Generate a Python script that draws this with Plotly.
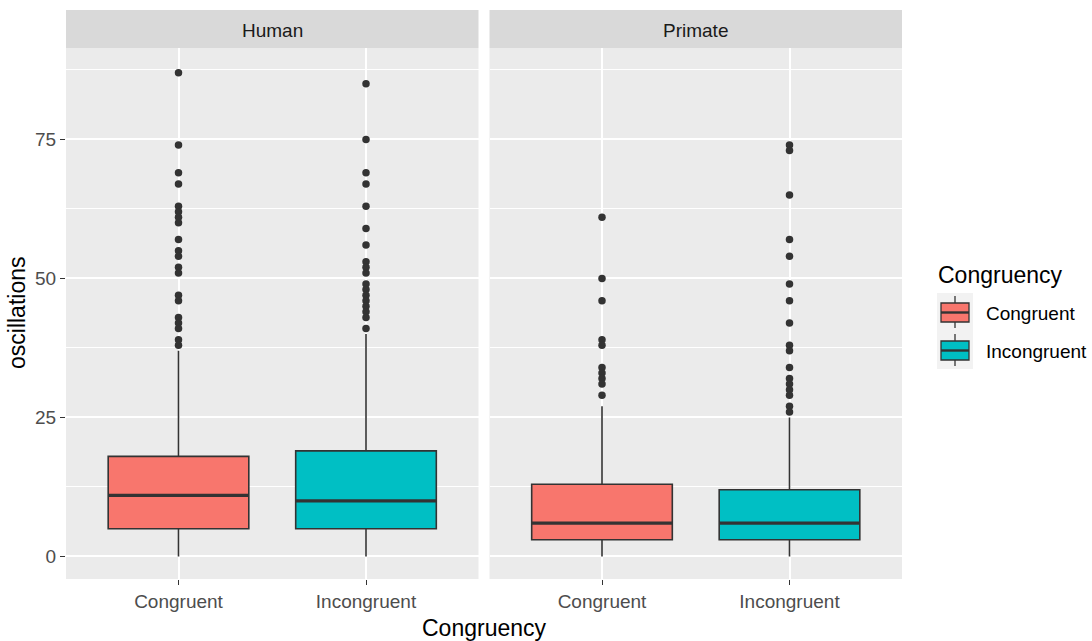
import plotly.graph_objects as go
from plotly.subplots import make_subplots

# ---------------- data ----------------
categories = ["Congruent", "Incongruent"]
panels = ["Human", "Primate"]

human_q1 = [5, 5]
human_median = [11, 10]
human_q3 = [18, 19]
human_lower = [0, 0]
human_upper = [37, 40]
human_out_congruent = [87, 74, 69, 67, 63, 62, 61, 60, 57, 55, 54, 52, 51, 47, 46, 43, 42, 41, 39, 38]
human_out_incongruent = [85, 75, 69, 67, 63, 59, 56, 53, 52, 51, 49, 48, 47, 46, 45, 44, 43, 41]

primate_q1 = [3, 3]
primate_median = [6, 6]
primate_q3 = [13, 12]
primate_lower = [0, 0]
primate_upper = [27, 25]
primate_out_congruent = [61, 50, 46, 39, 38, 34, 33, 32, 31, 29]
primate_out_incongruent = [74, 73, 65, 57, 54, 49, 46, 42, 38, 37, 34, 32, 31, 30, 29, 27, 26]

y_ticks = [0, 25, 50, 75]
colors = ["#F8766D", "#00BFC4"]

# ---------------- figure ----------------
W, H = 1092, 641
ML, MR, MT, MB = 66, 190, 48, 62
PW = W - ML - MR
PH = H - MT - MB


def px(x):
    return (x - ML) / PW


def py(y):
    return (H - MB - y) / PH


fig = make_subplots(rows=1, cols=2, shared_yaxes=True, horizontal_spacing=11 / PW)

DARK = "#333333"
BOXW = 0.75

data = [
    (human_q1, human_median, human_q3, human_lower, human_upper,
     [human_out_congruent, human_out_incongruent]),
    (primate_q1, primate_median, primate_q3, primate_lower, primate_upper,
     [primate_out_congruent, primate_out_incongruent]),
]

for ci, (q1, med, q3, lo, up, outs) in enumerate(data):
    col = ci + 1
    for k, cat in enumerate(categories):
        xpos = k + 1
        fig.add_trace(go.Box(
            x=[xpos], q1=[q1[k]], median=[med[k]], q3=[q3[k]],
            lowerfence=[lo[k]], upperfence=[up[k]],
            width=BOXW, fillcolor=colors[k],
            line=dict(color=DARK, width=1.6), whiskerwidth=0,
            boxpoints=False, showlegend=False, hoverinfo="skip",
            name=cat,
        ), row=1, col=col)
        # thicker median line (ggplot style)
        fig.add_trace(go.Scatter(
            x=[xpos - BOXW / 2, xpos + BOXW / 2], y=[med[k], med[k]],
            mode="lines", line=dict(color=DARK, width=3.2),
            showlegend=False, hoverinfo="skip",
        ), row=1, col=col)
        fig.add_trace(go.Scatter(
            x=[xpos] * len(outs[k]), y=outs[k], mode="markers",
            marker=dict(color=DARK, size=7.5, line=dict(width=0)),
            showlegend=False, hoverinfo="skip",
        ), row=1, col=col)

FONT = "Liberation Sans, Arial, sans-serif"

for ax in ["xaxis", "xaxis2"]:
    fig.layout[ax].update(
        range=[0.4, 2.6], tickvals=[1, 2], ticktext=categories,
        showgrid=True, gridcolor="white", gridwidth=2,
        zeroline=False, showline=False,
        ticks="outside", ticklen=5, tickwidth=1.3, tickcolor=DARK,
        tickfont=dict(family=FONT, size=19, color="#4D4D4D"),
        fixedrange=True,
    )

for ax in ["yaxis", "yaxis2"]:
    fig.layout[ax].update(
        range=[-4.05, 91.45], tickvals=y_ticks,
        showgrid=True, gridcolor="white", gridwidth=2,
        minor=dict(tickvals=[12.5, 37.5, 62.5, 87.5], showgrid=True,
                   gridcolor="white", gridwidth=1, ticks=""),
        zeroline=False, showline=False,
        tickfont=dict(family=FONT, size=19, color="#4D4D4D"),
        fixedrange=True,
    )
fig.layout.yaxis.update(ticks="outside", ticklen=5, tickwidth=1.3, tickcolor=DARK)
fig.layout.yaxis2.update(ticks="", showticklabels=False)

shapes = []
annotations = []

# facet strips
for i, name in enumerate(panels):
    xr = "x domain" if i == 0 else "x2 domain"
    shapes.append(dict(type="rect", xref=xr, yref="paper", x0=0, x1=1,
                       y0=py(48), y1=py(10), fillcolor="#D9D9D9", line=dict(width=0),
                       layer="below"))
    annotations.append(dict(text=name, xref=xr, yref="paper", x=0.5, y=py(30),
                            showarrow=False, xanchor="center", yanchor="middle",
                            font=dict(family=FONT, size=19, color="#1A1A1A")))

# axis titles
annotations.append(dict(text="Congruency", xref="paper", yref="paper", x=px(484), y=py(628),
                        showarrow=False, xanchor="center", yanchor="middle",
                        font=dict(family=FONT, size=23, color="black")))
annotations.append(dict(text="oscillations", xref="paper", yref="paper", x=px(17), y=py(313),
                        showarrow=False, xanchor="center", yanchor="middle", textangle=-90,
                        font=dict(family=FONT, size=23, color="black")))

# legend (ggplot-style box keys)
annotations.append(dict(text="Congruency", xref="paper", yref="paper", x=px(936), y=py(275),
                        showarrow=False, xanchor="left", yanchor="middle",
                        font=dict(family=FONT, size=23, color="black")))
key_top = [293, 331]
for k, cat in enumerate(categories):
    t = key_top[k]
    shapes.append(dict(type="rect", xref="paper", yref="paper", x0=px(937), x1=px(973),
                       y0=py(t + 38), y1=py(t), fillcolor="#F2F2F2", line=dict(width=0)))
    shapes.append(dict(type="line", xref="paper", yref="paper", x0=px(955), x1=px(955),
                       y0=py(t + 35), y1=py(t + 3), line=dict(color=DARK, width=1.3)))
    shapes.append(dict(type="rect", xref="paper", yref="paper", x0=px(941), x1=px(969),
                       y0=py(t + 29), y1=py(t + 10), fillcolor=colors[k],
                       line=dict(color=DARK, width=1.3)))
    shapes.append(dict(type="line", xref="paper", yref="paper", x0=px(941), x1=px(969),
                       y0=py(t + 19.5), y1=py(t + 19.5), line=dict(color=DARK, width=2.4)))
    annotations.append(dict(text=cat, xref="paper", yref="paper", x=px(984), y=py(t + 20),
                            showarrow=False, xanchor="left", yanchor="middle",
                            font=dict(family=FONT, size=19, color="black")))

fig.update_layout(
    width=W, height=H,
    margin=dict(l=ML, r=MR, t=MT, b=MB, pad=0),
    paper_bgcolor="white", plot_bgcolor="#EBEBEB",
    shapes=shapes, annotations=annotations,
    showlegend=False, boxmode="overlay",
    font=dict(family=FONT),
)

fig.write_html(
    "out.html",
    config={"displayModeBar": False},
    post_script="document.body.style.margin='0';document.body.style.overflow='hidden';",
)
